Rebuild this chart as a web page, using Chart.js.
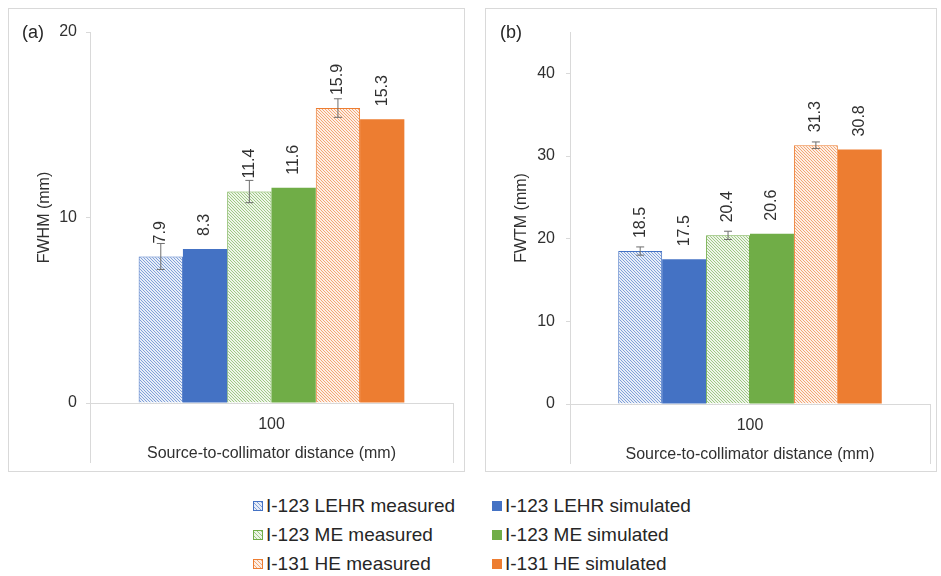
<!DOCTYPE html>
<html>
<head>
<meta charset="utf-8">
<script src="https://cdn.jsdelivr.net/npm/chart.js@4.4.0/dist/chart.umd.min.js"></script>
<style>
  body { margin: 0; width: 941px; height: 576px; background: #fff; position: relative; overflow: hidden;
         font-family: "Liberation Sans", Arial, sans-serif; color: #303030; }
  .panel { position: absolute; top: 8px; height: 464px; border: 1px solid #d9d9d9; box-sizing: border-box; }
  .wrap { position: absolute; top: 8px; height: 464px; }
  .tag { position: absolute; top: 22px; font-size: 18px; line-height: 20px; color: #262626; }
  .item { position: absolute; font-size: 19px; line-height: 22px; white-space: nowrap; color: #262626; }
  .sw { display: inline-block; width: 10px; height: 10px; box-sizing: border-box; margin-right: 3px; vertical-align: 1px; }
</style>
</head>
<body>
<div class="panel" style="left:8px;width:457px"></div>
<div class="panel" style="left:485px;width:452px"></div>
<div class="wrap" style="left:8px;width:457px"><canvas id="chartA" width="457" height="464"></canvas></div>
<div class="wrap" style="left:485px;width:452px"><canvas id="chartB" width="452" height="464"></canvas></div>
<div class="tag" style="left:22px">(a)</div>
<div class="tag" style="left:500px">(b)</div>
<div id="legend"></div>

<script>
// data
const categories = ['100'];
const seriesNames = ['I-123 LEHR measured', 'I-123 LEHR simulated', 'I-123 ME measured',
                     'I-123 ME simulated', 'I-131 HE measured', 'I-131 HE simulated'];
const fwhmValues = [7.9, 8.3, 11.4, 11.6, 15.9, 15.3];
const fwhmErrors = [0.7, null, 0.6, null, 0.5, null];
const fwtmValues = [18.5, 17.5, 20.4, 20.6, 31.3, 30.8];
const fwtmErrors = [0.5, null, 0.5, null, 0.4, null];
const fwhmMax = 20;
const fwtmMax = 45;
const tickStep = 10;

const colors = ['#4472C4', '#4472C4', '#70AD47', '#70AD47', '#ED7D31', '#ED7D31'];
const hatched = [true, false, true, false, true, false];
const FONT = '"Liberation Sans", Arial, sans-serif';
const TEXT = '#303030';
const LINE = '#d9d9d9';

// diagonal hatch used by the "measured" bars
function hatch(color) {
  const s = 3;
  const c = document.createElement('canvas');
  c.width = s; c.height = s;
  const g = c.getContext('2d');
  g.fillStyle = '#fff';
  g.fillRect(0, 0, s, s);
  g.globalAlpha = 0.12;
  g.fillStyle = color;
  g.fillRect(0, 0, s, s);
  g.strokeStyle = color;
  g.globalAlpha = 0.7;
  g.lineWidth = 0.9;
  g.beginPath();
  for (let k = -1; k <= 1; k++) { g.moveTo(k * s, 0); g.lineTo(k * s + s, s); }
  g.stroke();
  return g.createPattern(c, 'repeat');
}

// error bars, value labels and the category box under the plot
const barExtras = {
  id: 'barExtras',
  afterDatasetsDraw(chart) {
    const ctx = chart.ctx;
    const y = chart.scales.y;
    ctx.save();
    ctx.strokeStyle = '#6e6e6e';
    ctx.lineWidth = 1;
    chart.data.datasets.forEach((ds, i) => {
      if (!ds.errors) return;
      chart.getDatasetMeta(i).data.forEach((bar, j) => {
        const e = ds.errors[j];
        if (e == null) return;
        const top = y.getPixelForValue(ds.data[j] + e);
        const bot = y.getPixelForValue(ds.data[j] - e);
        ctx.beginPath();
        ctx.moveTo(bar.x, top); ctx.lineTo(bar.x, bot);
        ctx.moveTo(bar.x - 4, top); ctx.lineTo(bar.x + 4, top);
        ctx.moveTo(bar.x - 4, bot); ctx.lineTo(bar.x + 4, bot);
        ctx.stroke();
      });
    });
    ctx.font = '16px ' + FONT;
    ctx.fillStyle = TEXT;
    ctx.textAlign = 'left';
    ctx.textBaseline = 'middle';
    chart.data.datasets.forEach((ds, i) => {
      chart.getDatasetMeta(i).data.forEach((bar, j) => {
        ctx.save();
        ctx.translate(bar.x, bar.y - 13);
        ctx.rotate(-Math.PI / 2);
        ctx.fillText(ds.data[j].toFixed(1), 0, 0);
        ctx.restore();
      });
    });
    ctx.restore();
  },
  afterDraw(chart) {
    const {ctx, chartArea} = chart;
    ctx.save();
    ctx.strokeStyle = LINE;
    ctx.lineWidth = 1;
    ctx.beginPath();
    ctx.moveTo(chartArea.left + 0.5, chartArea.bottom);
    ctx.lineTo(chartArea.left + 0.5, chartArea.bottom + 60);
    ctx.moveTo(chartArea.right + 0.5, chartArea.bottom);
    ctx.lineTo(chartArea.right + 0.5, chartArea.bottom + 60);
    ctx.stroke();
    ctx.restore();
  }
};

function makeChart(id, values, errors, yTitle, yMax, pad, yWidth, tickPad) {
  const ctx = document.getElementById(id).getContext('2d');
  const datasets = seriesNames.map((name, i) => ({
    label: name,
    data: [values[i]],
    errors: [errors[i]],
    backgroundColor: hatched[i] ? hatch(colors[i]) : colors[i],
    borderColor: colors[i],
    borderWidth: hatched[i] ? 1 : 0,
    categoryPercentage: 0.732,
    barPercentage: 1.0
  }));
  return new Chart(ctx, {
    type: 'bar',
    data: { labels: categories, datasets: datasets },
    plugins: [barExtras],
    options: {
      responsive: false,
      animation: false,
      layout: { padding: pad },
      plugins: { legend: { display: false }, tooltip: { enabled: false } },
      scales: {
        x: {
          grid: { display: false, drawTicks: false },
          border: { display: true, color: LINE },
          ticks: { padding: 12, color: TEXT, font: { family: FONT, size: 16 } },
          title: { display: true, text: 'Source-to-collimator distance (mm)', color: TEXT,
                   padding: 0, font: { family: FONT, size: 16 } },
          afterFit(s) { s.height = 60; }
        },
        y: {
          min: 0,
          max: yMax,
          bounds: 'data',
          ticks: { stepSize: tickStep, padding: tickPad, color: TEXT,
                   font: { family: FONT, size: 16 } },
          afterBuildTicks(s) { s.ticks = s.ticks.filter(t => t.value % tickStep === 0); },
          grid: { drawOnChartArea: false, drawTicks: true, tickLength: 4, color: LINE },
          border: { display: true, color: LINE },
          title: { display: true, text: yTitle, color: TEXT, padding: 0,
                   font: { family: FONT, size: 16 } },
          afterFit(s) { s.width = yWidth; }
        }
      }
    }
  });
}

makeChart('chartA', fwhmValues, fwhmErrors, 'FWHM (mm)', fwhmMax,
          { left: 27, top: 24, right: 12, bottom: 9 }, 55, 9);
makeChart('chartB', fwtmValues, fwtmErrors, 'FWTM (mm)', fwtmMax,
          { left: 27, top: 24, right: 7, bottom: 8 }, 58, 11);

// shared legend, two columns
const legend = document.getElementById('legend');
seriesNames.forEach((name, i) => {
  const row = Math.floor(i / 2), col = i % 2;
  const d = document.createElement('div');
  d.className = 'item';
  d.style.left = (col === 0 ? 253 : 492) + 'px';
  d.style.top = (495 + row * 29) + 'px';
  const sw = document.createElement('span');
  sw.className = 'sw';
  if (hatched[i]) {
    sw.style.border = '1px solid ' + colors[i];
    sw.style.background = 'repeating-linear-gradient(45deg, ' + colors[i] + '22 0 1.6px, ' + colors[i] + 'aa 1.6px 2.8px)';
  } else {
    sw.style.background = colors[i];
  }
  d.appendChild(sw);
  d.appendChild(document.createTextNode(name));
  legend.appendChild(d);
});
</script>
</body>
</html>
